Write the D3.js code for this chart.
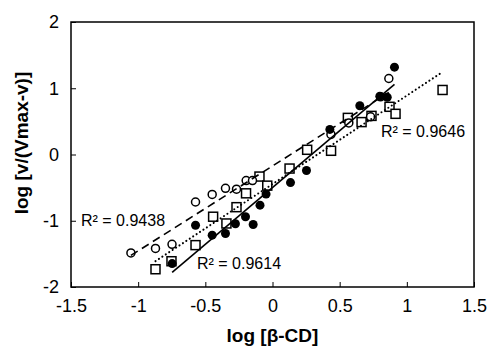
<!DOCTYPE html>
<html>
<head>
<meta charset="utf-8">
<script src="https://cdn.jsdelivr.net/npm/d3@7"></script>
<style>
  html, body { margin: 0; padding: 0; background: #fff; }
  svg { display: block; }
  text { font-family: "Liberation Sans", Arial, sans-serif; fill: #000; }
</style>
</head>
<body>
<svg id="chart" width="489" height="348"></svg>
<script>
// ---- data ----
const filledX = [-0.747, -0.573, -0.449, -0.350, -0.276, -0.201, -0.144, -0.093, -0.048, 0.134, 0.253, 0.427, 0.650, 0.799, 0.854, 0.908];
const filledY = [-1.647, -1.068, -1.217, -1.192, -1.045, -0.939, -1.056, -0.765, -0.598, -0.424, -0.242, 0.379, 0.735, 0.879, 0.864, 1.318];

const openX = [-1.054, -0.871, -0.748, -0.573, -0.449, -0.350, -0.268, -0.196, -0.149, 0.435, 0.568, 0.730, 0.804, 0.866];
const openY = [-1.485, -1.417, -1.356, -0.717, -0.602, -0.511, -0.523, -0.394, -0.394, 0.303, 0.477, 0.568, 0.871, 1.147];

const squareX = [-0.871, -0.752, -0.573, -0.442, -0.343, -0.268, -0.197, -0.097, -0.039, 0.127, 0.258, 0.436, 0.561, 0.663, 0.737, 0.871, 0.916, 1.266];
const squareY = [-1.732, -1.611, -1.368, -0.939, -1.041, -0.795, -0.586, -0.333, -0.470, -0.212, 0.071, 0.056, 0.553, 0.489, 0.583, 0.720, 0.614, 0.974];

const r2Labels = ["R\u00B2 = 0.9614", "R\u00B2 = 0.9438", "R\u00B2 = 0.9646"];
const xTicks = [-1.5, -1, -0.5, 0, 0.5, 1, 1.5];
const yTicks = [-2, -1, 0, 1, 2];
const xTitle = "log [\u03B2-CD]";
const yTitle = "log [v/(Vmax-v)]";

// ---- layout ----
const svg = d3.select("#chart");
const mLeft = 71, mRight = 474, mTop = 22, mBottom = 287;
const x = d3.scaleLinear().domain([-1.5, 1.5]).range([mLeft, mRight]);
const y = d3.scaleLinear().domain([-2, 2]).range([mBottom, mTop]);

function fit(xs, ys) {
  const n = xs.length, mx = d3.mean(xs), my = d3.mean(ys);
  let sxy = 0, sxx = 0;
  for (let i = 0; i < n; i++) { sxy += (xs[i]-mx)*(ys[i]-my); sxx += (xs[i]-mx)**2; }
  const b = sxy / sxx, a = my - b * mx;
  const x0 = d3.min(xs), x1 = d3.max(xs);
  return [[x0, a + b*x0], [x1, a + b*x1]];
}

// axes
const gx = svg.append("g").attr("transform", `translate(0,${mBottom})`)
  .call(d3.axisBottom(x).tickValues(xTicks).tickSizeInner(-5).tickSizeOuter(0).tickPadding(12)
    .tickFormat(d => String(d)));
const gy = svg.append("g").attr("transform", `translate(${mLeft},0)`)
  .call(d3.axisLeft(y).tickValues(yTicks).tickSizeInner(-5).tickSizeOuter(0).tickPadding(12)
    .tickFormat(d => String(d)));
[gx, gy].forEach(g => {
  g.select(".domain").remove();
  g.selectAll(".tick line").attr("stroke", "#000").attr("stroke-width", 1);
  g.selectAll(".tick text").attr("font-size", 18).attr("fill", "#000")
    .style("font-family", "'Liberation Sans', Arial, sans-serif");
});

// frame
svg.append("rect").attr("x", mLeft).attr("y", mTop).attr("width", mRight-mLeft).attr("height", mBottom-mTop)
  .attr("fill", "none").attr("stroke", "#000").attr("stroke-width", 1.5);

// markers
const mk = svg.append("g");
squareX.forEach((v, i) => mk.append("rect")
  .attr("x", x(v) - 4.5).attr("y", y(squareY[i]) - 4.5).attr("width", 9).attr("height", 9)
  .attr("fill", "#fff").attr("stroke", "#000").attr("stroke-width", 1.5));
openX.forEach((v, i) => mk.append("circle")
  .attr("cx", x(v)).attr("cy", y(openY[i])).attr("r", 4)
  .attr("fill", "#fff").attr("stroke", "#000").attr("stroke-width", 1.5));
filledX.forEach((v, i) => mk.append("circle")
  .attr("cx", x(v)).attr("cy", y(filledY[i])).attr("r", 4.5)
  .attr("fill", "#000"));

// trendlines
const line = d3.line().x(d => x(d[0])).y(d => y(d[1]));
svg.append("path").attr("d", line(fit(filledX, filledY)))
  .attr("stroke", "#000").attr("stroke-width", 1.6).attr("fill", "none");
svg.append("path").attr("d", line(fit(openX, openY)))
  .attr("stroke", "#000").attr("stroke-width", 1.6).attr("fill", "none").attr("stroke-dasharray", "8,5");
svg.append("path").attr("d", line(fit(squareX, squareY)))
  .attr("stroke", "#000").attr("stroke-width", 2).attr("fill", "none")
  .attr("stroke-dasharray", "0.1,4").attr("stroke-linecap", "round");

// R² labels
const lab = svg.append("g").attr("font-size", 16);
lab.append("text").attr("x", 197).attr("y", 269).text(r2Labels[0]);
lab.append("text").attr("x", 81).attr("y", 226).text(r2Labels[1]);
lab.append("text").attr("x", 381).attr("y", 137).text(r2Labels[2]);

// axis titles
svg.append("text").attr("x", x(0)).attr("y", 342).attr("text-anchor", "middle")
  .attr("font-size", 19).attr("font-weight", "bold").text(xTitle);
svg.append("text").attr("transform", `translate(28,143) rotate(-90)`)
  .attr("text-anchor", "middle").attr("font-size", 19).attr("font-weight", "bold").text(yTitle);
</script>
</body>
</html>
